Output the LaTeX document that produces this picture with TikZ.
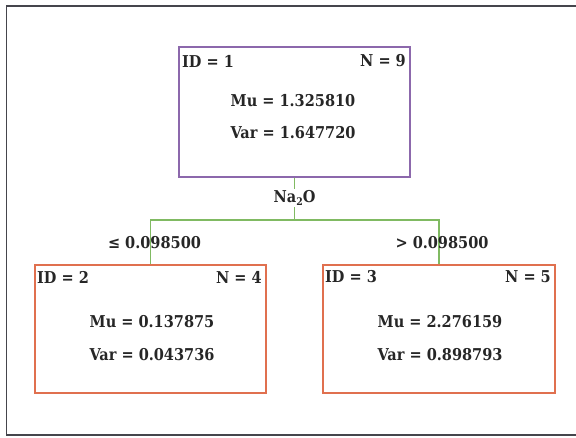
\documentclass[tikz,border=0pt]{standalone}
\usepackage{fontspec}
\setmainfont[FakeStretch=0.89]{DejaVu Serif}
\definecolor{framecol}{HTML}{45454C}
\definecolor{topcol}{HTML}{8C68AC}
\definecolor{leafcol}{HTML}{E0704F}
\definecolor{edgecol}{HTML}{80BA62}
\definecolor{txtcol}{HTML}{262626}
\tikzset{
  box/.style={draw, line width=1.5pt, rectangle, inner sep=0pt},
  topbox/.style={box, draw=topcol},
  leafbox/.style={box, draw=leafcol},
  txt/.style={inner sep=0pt, text=txtcol, font=\fontsize{16.3}{19}\selectfont\bfseries},
  edge/.style={draw=edgecol, line width=1.4pt},
}
\begin{document}
\begin{tikzpicture}[x=1pt,y=-1pt]
\useasboundingbox (0,0) rectangle (576,438);
\fill[white] (0,0) rectangle (576,438);
\draw[framecol, line width=1.7pt] (576,6) -- (6.5,6) -- (6.5,435) -- (576,435);

% boxes
\node[topbox, minimum width=231pt, minimum height=130pt] (n1) at (294.5,112) {};
\node[leafbox, minimum width=231pt, minimum height=128pt] (n2) at (150.5,329) {};
\node[leafbox, minimum width=232pt, minimum height=128pt] (n3) at (439,329) {};

% connectors
\coordinate (j) at (294.5,220);
\draw[edge] (n1.south) -- (j);
\draw[edge] (j) -| (n2.north);
\draw[edge] (j) -| (n3.north);
\node[txt, fill=white, inner sep=1pt] (split) at (294.5,198) {Na\raisebox{-0.35ex}{\fontsize{10.5}{10.5}\selectfont 2}O};
\node[txt] (lab2) at (154.5,243) {≤ 0.098500};
\node[txt] (lab3) at (442,243) {> 0.098500};

% node 1 texts
\node[txt, anchor=west] (id1) at (182,61) {ID = 1};
\node[txt, anchor=east] (nn1) at (406,61) {N = 9};
\node[txt] (mu1) at (293,101) {Mu = 1.325810};
\node[txt] (var1) at (293,133) {Var = 1.647720};

% node 2 texts
\node[txt, anchor=west] (id2) at (37,277) {ID = 2};
\node[txt, anchor=east] (nn2) at (262,277) {N = 4};
\node[txt] (mu2) at (152,322) {Mu = 0.137875};
\node[txt] (var2) at (152,355) {Var = 0.043736};

% node 3 texts
\node[txt, anchor=west] (id3) at (325,277) {ID = 3};
\node[txt, anchor=east] (nn3) at (551,277) {N = 5};
\node[txt] (mu3) at (440,322) {Mu = 2.276159};
\node[txt] (var3) at (440,355) {Var = 0.898793};
\end{tikzpicture}
\end{document}
